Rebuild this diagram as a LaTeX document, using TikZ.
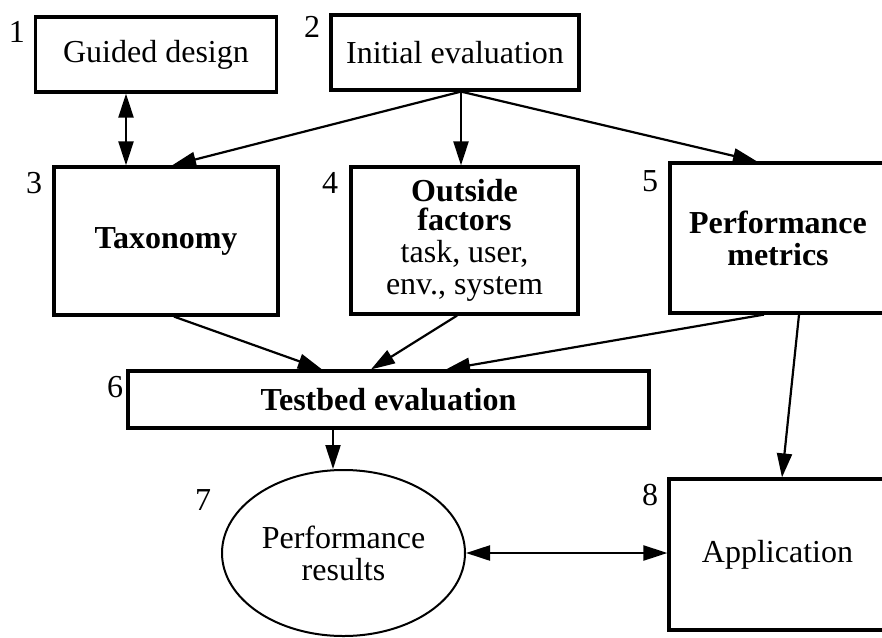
\documentclass[tikz,border=0pt]{standalone}
\usepackage{fontspec}
\setmainfont{Liberation Serif}
\usetikzlibrary{arrows.meta,shapes}

\begin{document}
\begin{tikzpicture}[x=0.5pt,y=-0.5pt,>={Triangle[length=12pt,width=7.5pt]},
box/.style={draw,line width=1.6pt,inner sep=0pt,align=center,font=\fontsize{16}{16}\selectfont},
num/.style={inner sep=0pt,font=\fontsize{16}{18}\selectfont},
link/.style={->,line width=1.1pt}]
\useasboundingbox (0,0) rectangle (882,637);
% boxes
\node[box,minimum width=120.5pt,minimum height=37.5pt](gd) at (156,54.5){Guided design};
\node[box,minimum width=124pt,minimum height=37.5pt](ie) at (455,52.5){Initial evaluation};
\node[box,minimum width=112pt,minimum height=74pt](tax) at (166,241){\textbf{Taxonomy}};
\node[box,minimum width=113.5pt,minimum height=73.5pt](of) at (464.5,240.5){\textbf{Outside}\\[-1.5pt]\textbf{factors}\\task, user,\\env., system};
\node[box,minimum width=108pt,minimum height=75pt](pm) at (778,238){\textbf{Performance}\\\textbf{metrics}};
\node[box,minimum width=260.5pt,minimum height=28.5pt](tb) at (388.5,399.5){\textbf{Testbed evaluation}};
\node[box,ellipse,line width=1pt,minimum width=121.5pt,minimum height=83pt](pr) at (343.5,553){Performance\\results};
\node[box,minimum width=108.5pt,minimum height=75.5pt](app) at (777.5,554.5){Application};
% numbers
\node[num](n1) at (17,32){1};
\node[num](n2) at (312,27){2};
\node[num](n3) at (34,183){3};
\node[num](n4) at (330,183){4};
\node[num](n5) at (650,181){5};
\node[num](n6) at (115,387){6};
\node[num](n7) at (203,500){7};
\node[num](n8) at (650,495){8};
% arrows
\draw[link,<->]([xshift=-15pt]gd.south)--([xshift=-15pt]gd.south |- tax.north);
\draw[link]([xshift=3pt]ie.south)--([xshift=3pt]tax.north);
\draw[link]([xshift=3pt]ie.south)--([xshift=3pt]ie.south |- of.north);
\draw[link]([xshift=3pt]ie.south)--([xshift=-10.5pt]pm.north);
\draw[link]([xshift=4pt]tax.south)--([xshift=-33.25pt]tb.north);
\draw[link]([xshift=-3.75pt]of.south)--([xshift=-8.75pt]tb.north);
\draw[link]([xshift=-7pt]pm.south)--([xshift=28.75pt]tb.north);
\draw[link]([xshift=-27.75pt]tb.south)--([xshift=-5.25pt]pr.north);
\draw[link]([xshift=10.5pt]pm.south)--([xshift=2.25pt]app.north);
\draw[link,<->](pr.east)--(pr.east -| app.west);
\end{tikzpicture}
\end{document}
